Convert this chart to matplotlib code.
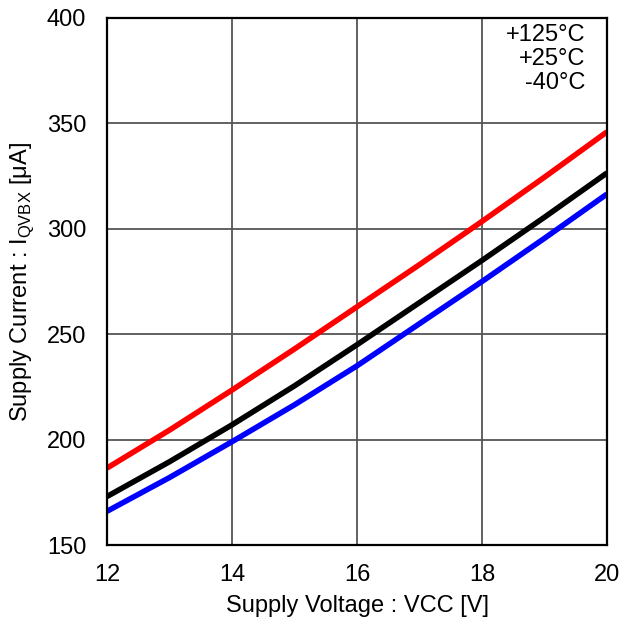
import matplotlib
matplotlib.use("Agg")
import matplotlib.pyplot as plt

plt.rcParams['font.family'] = ['Liberation Sans', 'DejaVu Sans']
plt.rcParams['mathtext.fontset'] = 'custom'
plt.rcParams['mathtext.rm'] = 'Liberation Sans'

# supply voltage [V]
vcc = [12, 13, 14, 15, 16, 17, 18, 19, 20]
# supply current [uA] per temperature
i_125 = [186.5, 204.5, 223.5, 243, 263, 283, 303.5, 324.5, 346]
i_25 = [173, 189.5, 207, 225.5, 245, 265, 285, 305.5, 326.5]
i_m40 = [166, 182, 199, 216.5, 235, 255, 275, 295.5, 316.5]

labels = ['+125°C', '+25°C', '-40°C']

fig = plt.figure(figsize=(6.37, 6.25), dpi=100)
ax = fig.add_axes([107 / 637, 1 - 545 / 625, 500 / 637, 527 / 625])

ax.plot(vcc, i_125, color='#ff0000', lw=4, solid_capstyle='butt')
ax.plot(vcc, i_25, color='#000000', lw=4, solid_capstyle='butt')
ax.plot(vcc, i_m40, color='#0000ff', lw=4, solid_capstyle='butt')

ax.set_xlim(12, 20)
ax.set_ylim(150, 400)
ax.set_xticks([12, 14, 16, 18, 20])
ax.set_yticks([150, 200, 250, 300, 350, 400])
ax.grid(True, color='#555555', lw=1.3)
ax.set_axisbelow(True)
for s in ax.spines.values():
    s.set_linewidth(1.6)
    s.set_color('black')
ax.tick_params(labelsize=17, length=0)
ax.tick_params(axis='x', pad=14)
ax.tick_params(axis='y', pad=15)

ax.set_xlabel('Supply Voltage : VCC [V]', fontsize=17, labelpad=6)
ax.set_ylabel(r'Supply Current : I$_{\mathregular{QVBX}}$ [μA]', fontsize=17, labelpad=8)

ax.text(0.956, 0.988, '\n'.join(labels), transform=ax.transAxes, ha='right', va='top',
        fontsize=17, linespacing=1.1)

fig.savefig('out.png', dpi=100)
